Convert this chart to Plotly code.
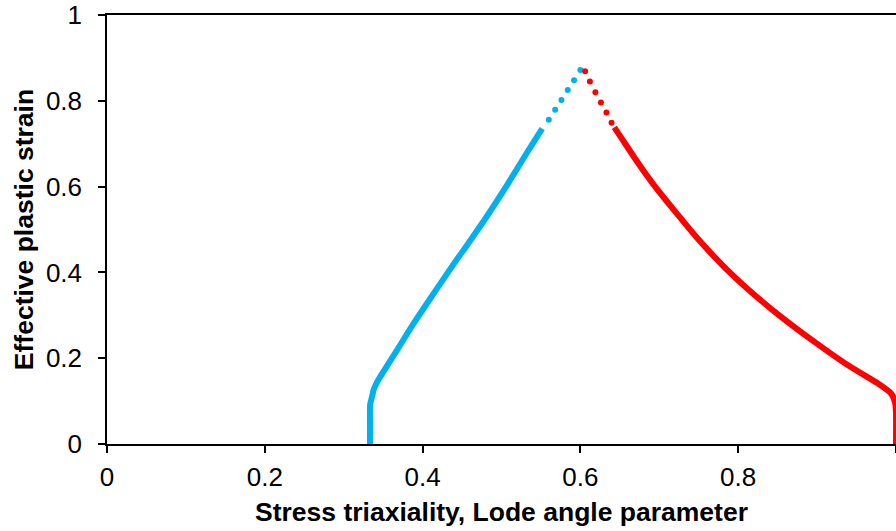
import plotly.graph_objects as go

# Stress triaxiality branch (blue)
blue_solid_x = [0.3333, 0.3333, 0.3335, 0.3359, 0.3379, 0.3414, 0.3464, 0.3676, 0.3887, 0.4141,
                0.4395, 0.4565, 0.4819, 0.5072, 0.5326, 0.5516]
blue_solid_y = [0.000, 0.050, 0.092, 0.110, 0.126, 0.141, 0.157, 0.219, 0.281, 0.351,
                0.420, 0.464, 0.532, 0.604, 0.680, 0.735]
blue_dots_x = [0.560, 0.568, 0.576, 0.584, 0.592, 0.600]
blue_dots_y = [0.756, 0.779, 0.802, 0.825, 0.848, 0.872]

# Lode angle parameter branch (red)
red_dots_x = [0.606, 0.612, 0.619, 0.626, 0.633, 0.6395]
red_dots_y = [0.869, 0.845, 0.820, 0.796, 0.773, 0.749]
red_solid_x = [0.643, 0.651, 0.672, 0.693, 0.7187, 0.7483, 0.7821, 0.816, 0.854, 0.8963,
               0.9387, 0.9768, 0.9937, 0.999, 1.0, 1.0]
red_solid_y = [0.738, 0.716, 0.658, 0.604, 0.545, 0.4795, 0.413, 0.355, 0.297, 0.2385,
               0.184, 0.1415, 0.118, 0.095, 0.070, 0.000]

x_ticks = [0, 0.2, 0.4, 0.6, 0.8, 1]
y_ticks = [0, 0.2, 0.4, 0.6, 0.8, 1]
x_title = "Stress triaxiality, Lode angle parameter"
y_title = "Effective plastic strain"

BLUE = "#00B0F0"
RED = "#FF0000"
FONT = "Arial, Liberation Sans, sans-serif"

fig = go.Figure()
fig.add_trace(go.Scatter(x=blue_solid_x, y=blue_solid_y, mode="lines",
                         line=dict(color=BLUE, width=6, shape="spline", smoothing=0.6),
                         showlegend=False))
fig.add_trace(go.Scatter(x=blue_dots_x, y=blue_dots_y, mode="markers",
                         marker=dict(color=BLUE, size=6), showlegend=False))
fig.add_trace(go.Scatter(x=red_dots_x, y=red_dots_y, mode="markers",
                         marker=dict(color=RED, size=6), showlegend=False))
fig.add_trace(go.Scatter(x=red_solid_x, y=red_solid_y, mode="lines",
                         line=dict(color=RED, width=6, shape="spline", smoothing=0.6),
                         showlegend=False))

fig.update_layout(
    width=896, height=531,
    margin=dict(l=107, r=0, t=15, b=87),
    paper_bgcolor="white", plot_bgcolor="white",
    font=dict(family=FONT, color="black"),
    xaxis=dict(range=[0, 1], tickvals=x_ticks, ticktext=[str(v) for v in x_ticks],
               showgrid=False, zeroline=False, showline=True, linecolor="black",
               linewidth=1.5, mirror=True, ticks="outside", ticklen=7, tickcolor="black",
               tickwidth=1.5, tickfont=dict(size=26, family=FONT), ticklabelstandoff=2,
               title=dict(text=x_title, font=dict(size=26.5, family=FONT, weight="bold"),
                          standoff=11)),
    yaxis=dict(range=[0, 1], tickvals=y_ticks, ticktext=[str(v) for v in y_ticks],
               showgrid=False, zeroline=False, showline=True, linecolor="black",
               linewidth=1.5, ticks="outside", ticklen=7, tickcolor="black",
               tickwidth=1.5, tickfont=dict(size=26, family=FONT), ticklabelstandoff=11,
               title=dict(text=y_title, font=dict(size=26.5, family=FONT, weight="bold"),
                          standoff=5)),
)

fig.write_html("out.html")
